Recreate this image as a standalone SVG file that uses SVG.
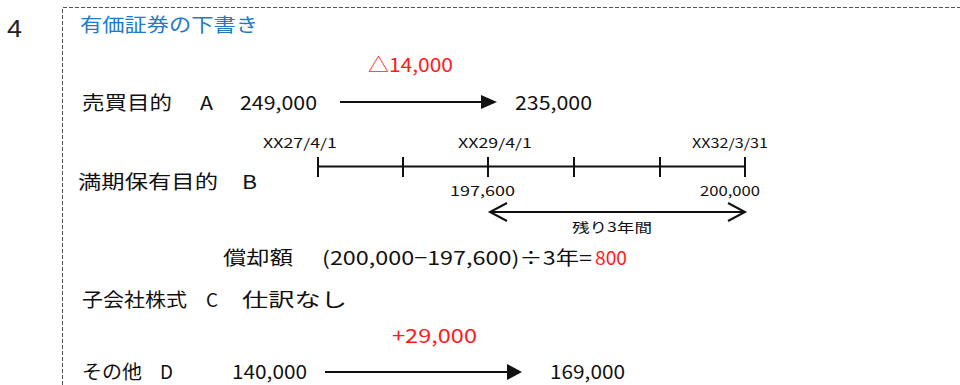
<svg xmlns="http://www.w3.org/2000/svg" width="960" height="385" viewBox="0 0 960 385">
<style>
.t{font-family:"Noto Sans CJK JP","Liberation Sans",sans-serif;font-size:19px;fill:#111}
.s{font-family:"Noto Sans CJK JP","Liberation Sans",sans-serif;font-size:13px;fill:#111}
.r{fill:#ff1a1a}
.b{fill:#1e7bc4}
.ln{stroke:#111;stroke-width:2;fill:none}
</style>
<rect width="960" height="385" fill="#fff"/>
<path d="M62.5 385 V7.5 H960" fill="none" stroke="#555" stroke-width="1" stroke-dasharray="4,2"/>
<text x="7" y="37" font-family="Liberation Sans, sans-serif" font-size="24" fill="#222" textLength="15" lengthAdjust="spacingAndGlyphs">4</text>
<g id="title"><text class="t b" x="80" y="32" textLength="178" lengthAdjust="spacingAndGlyphs">有価証券の下書き</text></g>
<g id="A">
<text class="t r" x="368" y="72" textLength="85" lengthAdjust="spacingAndGlyphs">△14,000</text>
<text class="t" x="82" y="110" textLength="90" lengthAdjust="spacingAndGlyphs">売買目的</text>
<text class="t" x="200" y="110" textLength="13" lengthAdjust="spacingAndGlyphs">A</text>
<text class="t" x="240" y="110" textLength="77" lengthAdjust="spacingAndGlyphs">249,000</text>
<text class="t" x="515" y="110" textLength="77" lengthAdjust="spacingAndGlyphs">235,000</text>
</g>
<g id="B">
<text class="s" x="263" y="148" textLength="74" lengthAdjust="spacingAndGlyphs">XX27/4/1</text>
<text class="s" x="458" y="148" textLength="74" lengthAdjust="spacingAndGlyphs">XX29/4/1</text>
<text class="s" x="692" y="148" textLength="76" lengthAdjust="spacingAndGlyphs">XX32/3/31</text>
<text class="t" x="78" y="189" textLength="140" lengthAdjust="spacingAndGlyphs">満期保有目的</text>
<text class="t" x="242" y="189" textLength="15" lengthAdjust="spacingAndGlyphs">B</text>
<text class="s" x="450" y="196" textLength="65" lengthAdjust="spacingAndGlyphs">197,600</text>
<text class="s" x="700" y="196" textLength="60" lengthAdjust="spacingAndGlyphs">200,000</text>
<text class="s" x="572" y="232" font-size="14" textLength="80" lengthAdjust="spacingAndGlyphs">残り3年間</text>
<text class="t" x="223" y="265" textLength="70" lengthAdjust="spacingAndGlyphs">償却額</text>
<text class="t" x="322" y="265" textLength="270" lengthAdjust="spacingAndGlyphs">(200,000−197,600)÷3年=</text>
<text class="t r" x="595" y="265" textLength="32" lengthAdjust="spacingAndGlyphs">800</text>
</g>
<g id="C">
<text class="t" x="82" y="307" textLength="105" lengthAdjust="spacingAndGlyphs">子会社株式</text>
<text class="t" x="206" y="307" textLength="12" lengthAdjust="spacingAndGlyphs">C</text>
<text class="t" x="242" y="307" textLength="105" lengthAdjust="spacingAndGlyphs">仕訳なし</text>
</g>
<g id="D">
<text class="t r" x="392" y="343" textLength="85" lengthAdjust="spacingAndGlyphs">+29,000</text>
<text class="t" x="82" y="379" textLength="60" lengthAdjust="spacingAndGlyphs">その他</text>
<text class="t" x="160" y="379" textLength="13" lengthAdjust="spacingAndGlyphs">D</text>
<text class="t" x="232" y="379" textLength="75" lengthAdjust="spacingAndGlyphs">140,000</text>
<text class="t" x="550" y="379" textLength="75" lengthAdjust="spacingAndGlyphs">169,000</text>
</g>
<g id="connectors">
<line class="ln" x1="340" y1="102" x2="483" y2="102"/>
<polygon points="481,95 497,102 481,109" fill="#111"/>
<line class="ln" x1="318" y1="166.5" x2="745" y2="166.5"/>
<path class="ln" d="M318 157V177M403 157V177M488 157V177M574 157V177M660 157V177M745 157V177"/>
<line class="ln" x1="490" y1="212" x2="745" y2="212"/>
<path class="ln" d="M507 203L490 212L507 221M728 203L745 212L728 221"/>
<line class="ln" x1="325" y1="372" x2="509" y2="372"/>
<polygon points="507,364 522,372 507,380" fill="#111"/>
</g>
</svg>
